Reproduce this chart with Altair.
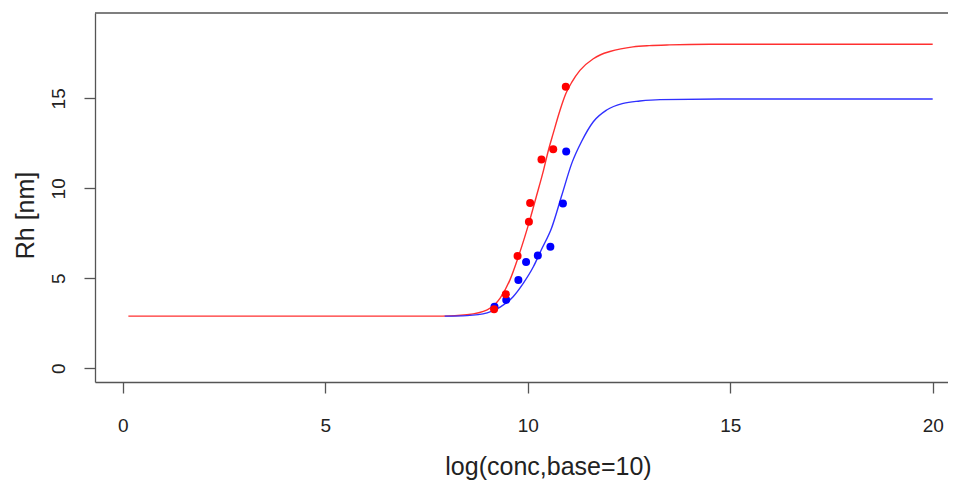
import altair as alt
import pandas as pd

# ---- data ----
red_curve_x = [0.14, 7.9, 8.5, 9.0, 9.32, 9.56, 9.77, 10.06, 10.22, 10.39, 10.51, 10.63, 10.8, 10.94, 11.09, 11.29, 11.62, 11.8, 12.03, 12.3, 12.6, 13.0, 13.5, 14.5, 20.0]
red_curve_y = [2.9, 2.9, 2.98, 3.25, 3.9, 4.9, 6.2, 8.3, 9.6, 11.0, 12.1, 13.05, 14.35, 15.25, 15.9, 16.55, 17.2, 17.42, 17.6, 17.75, 17.86, 17.93, 17.97, 18.0, 18.0]

blue_curve_x = [7.95, 8.5, 9.0, 9.32, 9.64, 9.89, 10.14, 10.34, 10.59, 10.84, 11.09, 11.33, 11.62, 11.95, 12.36, 12.77, 13.27, 14.75, 20.0]
blue_curve_y = [2.9, 2.93, 3.08, 3.4, 3.98, 4.72, 5.64, 6.6, 7.8, 9.6, 11.4, 12.6, 13.7, 14.35, 14.72, 14.85, 14.93, 14.96, 14.96]

red_pts_x = [9.17, 9.46, 9.75, 10.03, 10.06, 10.34, 10.63, 10.94]
red_pts_y = [3.28, 4.11, 6.24, 8.14, 9.19, 11.6, 12.17, 15.64]

blue_pts_x = [9.18, 9.47, 9.77, 9.96, 10.25, 10.56, 10.87, 10.95]
blue_pts_y = [3.42, 3.8, 4.9, 5.91, 6.27, 6.75, 9.15, 12.04]

x_ticks = [0, 5, 10, 15, 20]
y_ticks = [0, 5, 10, 15]

FONT = "Liberation Sans"
AXC = "#555555"
TXC = "#222222"
W, H = 853, 369

red_curve = pd.DataFrame({"x": red_curve_x, "y": red_curve_y})
blue_curve = pd.DataFrame({"x": blue_curve_x, "y": blue_curve_y})
red_pts = pd.DataFrame({"x": red_pts_x, "y": red_pts_y})
blue_pts = pd.DataFrame({"x": blue_pts_x, "y": blue_pts_y})

x_scale = alt.Scale(domain=[-0.684, 20.378], nice=False, zero=False)
y_scale = alt.Scale(domain=[-0.76, 19.74], nice=False, zero=False)

x_axis = alt.Axis(
    values=x_ticks, tickSize=11, tickWidth=1.3, tickColor=AXC,
    domainColor=AXC, domainWidth=1.3, grid=False,
    labelPadding=23, labelFontSize=19, labelFont=FONT, labelColor=TXC,
    labelFlush=False, labelOverlap=False,
    title="log(conc,base=10)", titleFont=FONT, titleFontSize=25,
    titleFontWeight="normal", titleColor=TXC,
    titleX=453, titleY=92, titleBaseline="alphabetic", titleAlign="center",
)
y_axis = alt.Axis(
    values=y_ticks, tickSize=11, tickWidth=1.3, tickColor=AXC,
    domainColor=AXC, domainWidth=1.3, grid=False,
    labelPadding=19.5, labelFontSize=19, labelFont=FONT, labelColor=TXC,
    labelAngle=270, labelAlign="center", labelBaseline="alphabetic",
    labelFlush=False, labelOverlap=False,
    title="Rh [nm]", titleFont=FONT, titleFontSize=25,
    titleFontWeight="normal", titleColor=TXC,
    titleAngle=270, titleX=-70, titleY=202, titleBaseline="middle", titleAlign="center",
)

X = alt.X("x:Q", scale=x_scale, axis=x_axis)
Y = alt.Y("y:Q", scale=y_scale, axis=y_axis)

red_line = alt.Chart(red_curve).mark_line(color="#ff3030", strokeWidth=1.4, interpolate="monotone").encode(x=X, y=Y)
blue_line = alt.Chart(blue_curve).mark_line(color="#3030ff", strokeWidth=1.4, interpolate="monotone").encode(x=X, y=Y)
blue_dots = alt.Chart(blue_pts).mark_circle(color="#0000ff", opacity=1, size=64).encode(x=X, y=Y)
red_dots = alt.Chart(red_pts).mark_circle(color="#ff0000", opacity=1, size=64).encode(x=X, y=Y)

top_border = alt.Chart(pd.DataFrame({"a": [0]})).mark_rule(color=AXC, strokeWidth=1.3).encode(
    x=alt.value(0), x2=alt.value(W), y=alt.value(0)
)

chart = alt.layer(red_line, blue_line, blue_dots, red_dots, top_border).properties(
    width=W, height=H,
    autosize=alt.AutoSizeParams(type="none"),
    padding={"left": 87, "top": 5, "right": 0, "bottom": 101},
).configure_view(stroke=None)

chart.save("out.html", embed_options={"renderer": "svg", "actions": False})
